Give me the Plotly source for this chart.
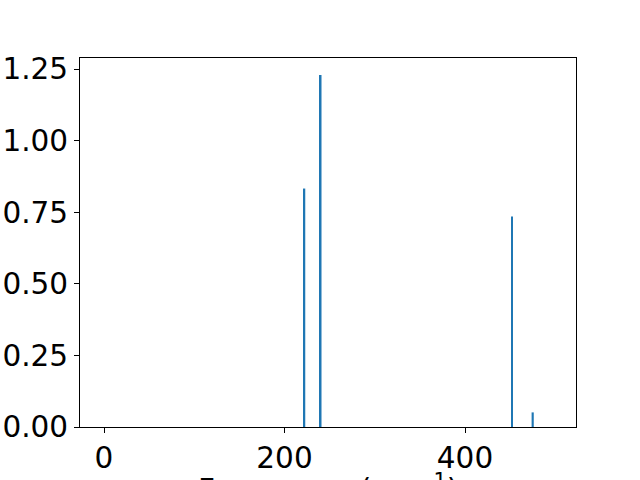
import plotly.graph_objects as go

frequencies = [222, 240, 452, 475]
intensities = [0.833, 1.230, 0.735, 0.051]
bar_widths = [2.0, 2.0, 1.2, 2.4]

x_ticks = [0, 200, 400]
y_ticks = [0.0, 0.25, 0.5, 0.75, 1.0, 1.25]
y_tick_text = ["0.00", "0.25", "0.50", "0.75", "1.00", "1.25"]

FONT = "DejaVu Sans"
FS = 29.5

fig = go.Figure()
fig.add_trace(go.Bar(
    x=frequencies, y=intensities, width=bar_widths,
    marker=dict(color="#1f77b4", line=dict(width=0)),
))

fig.update_layout(
    width=640, height=480,
    margin=dict(l=80, r=64, t=58, b=53),
    paper_bgcolor="white", plot_bgcolor="white",
    showlegend=False,
    font=dict(family=FONT, size=FS, color="black"),
    xaxis=dict(
        range=[-26.6, 523], tickvals=x_ticks, automargin=False,
        showgrid=False, zeroline=False,
        showline=True, mirror=True, linecolor="black", linewidth=1,
        ticks="outside", ticklen=5, tickcolor="black",
        tickfont=dict(family=FONT, size=FS, color="black"),
    ),
    yaxis=dict(
        range=[0, 1.289], tickvals=y_ticks, ticktext=y_tick_text, automargin=False,
        showgrid=False, zeroline=False,
        showline=True, mirror=True, linecolor="black", linewidth=1,
        ticks="outside", ticklen=5, tickcolor="black",
        tickfont=dict(family=FONT, size=FS, color="black"),
    ),
    annotations=[dict(
        text="Frequency (cm<sup>−1</sup>)",
        xref="paper", yref="paper", x=0.5, y=0,
        xanchor="center", yanchor="top", yshift=-40,
        showarrow=False,
        font=dict(family=FONT, size=FS, color="black"),
    )],
)

fig.write_html(
    "out.html",
    config={"displayModeBar": False},
    post_script="document.body.style.margin='0';document.body.style.overflow='hidden';",
)
